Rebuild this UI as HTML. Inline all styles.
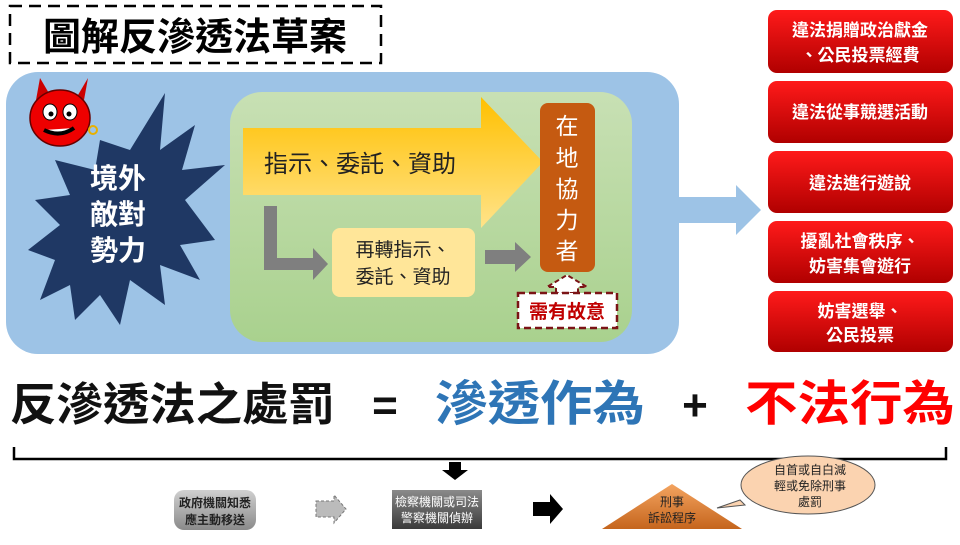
<!DOCTYPE html>
<html><head><meta charset="utf-8"><style>
body{margin:0;width:960px;height:540px;overflow:hidden;background:#fff}
svg text{font-family:"Liberation Sans","Noto Sans CJK TC",sans-serif}
</style></head><body>
<svg width="960" height="540" xmlns="http://www.w3.org/2000/svg">
<defs>
<linearGradient id="gg" x1="0" y1="0" x2="0" y2="1"><stop offset="0" stop-color="#c8e0b4"/><stop offset="1" stop-color="#a9d18e"/></linearGradient>
<linearGradient id="yg" x1="0" y1="0" x2="0" y2="1"><stop offset="0" stop-color="#ffc000"/><stop offset="1" stop-color="#ffe38a"/></linearGradient>
<linearGradient id="rg" x1="0" y1="0" x2="0" y2="1"><stop offset="0" stop-color="#ff1a1a"/><stop offset="1" stop-color="#b00000"/></linearGradient>
<linearGradient id="gr" x1="0" y1="0" x2="0" y2="1"><stop offset="0" stop-color="#d0d0d0"/><stop offset="1" stop-color="#8a8a8a"/></linearGradient>
<linearGradient id="dg" x1="0" y1="0" x2="0" y2="1"><stop offset="0" stop-color="#8a8a8a"/><stop offset="1" stop-color="#3a3a3a"/></linearGradient>
<linearGradient id="og" x1="0" y1="0" x2="0" y2="1"><stop offset="0" stop-color="#f4a460"/><stop offset="1" stop-color="#c5651d"/></linearGradient>
</defs>
<rect x="10" y="6" width="371" height="57" fill="#fff" stroke="#000" stroke-width="2.5" stroke-dasharray="12,7"/>
<text x="195" y="50" font-size="38" text-anchor="middle" font-weight="bold" fill="#000">圖解反滲透法草案</text>
<rect x="6" y="72" width="673" height="282" rx="32" fill="#9dc3e6"/>
<polygon points="679,197 736,197 736,185 761,210 736,235 736,223 679,223" fill="#9dc3e6"/>
<rect x="230" y="92" width="402" height="250" rx="32" fill="url(#gg)"/>
<polygon fill="#1f3864" points="165,93 160,150 195,125 182,170 225,165 185,200 215,240 180,245 200,280 160,265 165,305 130,280 120,325 100,295 75,320 70,285 40,300 55,260 28,250 60,225 35,200 70,195 55,160 95,170 100,140 130,150" />
<text font-size="28" fill="#fff" text-anchor="middle" font-weight="bold"><tspan x="118" y="188">境外</tspan><tspan x="118" y="224">敵對</tspan><tspan x="118" y="260">勢力</tspan></text>
<g>
<polygon points="36,100 40,78 50,95" fill="#c00"/><polygon points="78,95 88,78 84,100" fill="#c00"/>
<ellipse cx="60" cy="118" rx="30" ry="28" fill="#e00" stroke="#600" stroke-width="1.5"/>
<ellipse cx="50" cy="112" rx="7" ry="8" fill="#fff" stroke="#000"/><ellipse cx="70" cy="112" rx="7" ry="8" fill="#fff" stroke="#000"/>
<circle cx="51" cy="114" r="2.5"/><circle cx="69" cy="114" r="2.5"/>
<path d="M44 130 Q60 138 74 128" stroke="#000" stroke-width="4" fill="#fff"/>
<circle cx="93" cy="130" r="4" fill="none" stroke="#e8b000" stroke-width="2"/>
</g>
<polygon points="243,128 481,128 481,97 543,162 481,228 481,195 243,195" fill="url(#yg)"/>
<text x="360" y="172" font-size="24" text-anchor="middle" fill="#222">指示、委託、資助</text>
<polygon points="264,206 277,206 277,258 313,258 313,248 328,264 313,280 313,270 264,270" fill="#7f7f7f"/>
<rect x="332" y="228" width="143" height="69" rx="8" fill="#ffe699"/>
<text font-size="19" text-anchor="middle" fill="#222"><tspan x="403" y="256">再轉指示、</tspan><tspan x="403" y="283">委託、資助</tspan></text>
<polygon points="485,250 515,250 515,242 531,257 515,272 515,264 485,264" fill="#7f7f7f"/>
<rect x="540" y="103" width="55" height="169" rx="8" fill="#c55a11"/>
<text font-size="23" fill="#fff" text-anchor="middle"><tspan x="567" y="134">在</tspan><tspan x="567" y="166">地</tspan><tspan x="567" y="197">協</tspan><tspan x="567" y="228">力</tspan><tspan x="567" y="259">者</tspan></text>
<polygon points="556,293 556,287 547,287 567,275 587,287 578,287 578,293" fill="#fff" stroke="#7b1416" stroke-width="2" stroke-dasharray="5,3"/>
<rect x="518" y="293" width="99" height="35" fill="#fff" stroke="#7b1416" stroke-width="2.5" stroke-dasharray="7,4"/>
<text x="567" y="318" font-size="19" font-weight="bold" text-anchor="middle" fill="#c00000">需有故意</text>
<g fill="url(#rg)">
<rect x="768" y="10" width="185" height="63" rx="9"/>
<rect x="768" y="81" width="185" height="62" rx="9"/>
<rect x="768" y="151" width="185" height="62" rx="9"/>
<rect x="768" y="221" width="185" height="62" rx="9"/>
<rect x="768" y="291" width="185" height="61" rx="9"/>
</g>
<g font-size="17" font-weight="bold" fill="#fff" text-anchor="middle">
<text x="860" y="36">違法捐贈政治獻金</text><text x="860" y="61">、公民投票經費</text>
<text x="860" y="118">違法從事競選活動</text>
<text x="860" y="189">違法進行遊說</text>
<text x="860" y="247">擾亂社會秩序、</text><text x="860" y="272">妨害集會遊行</text>
<text x="860" y="317">妨害選舉、</text><text x="860" y="341">公民投票</text>
</g>
<text x="10" y="420" font-size="45" font-weight="bold" fill="#111" textLength="325" lengthAdjust="spacingAndGlyphs">反滲透法之處罰</text>
<text x="385" y="420" font-size="44" font-weight="bold" fill="#111" text-anchor="middle">=</text>
<text x="435" y="420" font-size="48" font-weight="bold" fill="#2e75b6" textLength="210" lengthAdjust="spacingAndGlyphs">滲透作為</text>
<text x="695" y="420" font-size="44" font-weight="bold" fill="#111" text-anchor="middle">+</text>
<text x="745" y="420" font-size="48" font-weight="bold" fill="#ff0000" textLength="210" lengthAdjust="spacingAndGlyphs">不法行為</text>
<path d="M14 447 L14 459 L946 459 L946 447" stroke="#000" stroke-width="2.5" fill="none"/>
<polygon points="449,462 461,462 461,470 468,470 455,480 442,470 449,470" fill="#000"/>
<rect x="174" y="490" width="82" height="40" rx="10" fill="url(#gr)"/>
<text font-size="12" font-weight="bold" fill="#222" text-anchor="middle"><tspan x="215" y="507">政府機關知悉</tspan><tspan x="215" y="524">應主動移送</tspan></text>
<polygon points="316,501 334,501 334,495 346,509 334,523 334,517 316,517" fill="#bbb" stroke="#777" stroke-dasharray="3,2"/>
<rect x="392" y="490" width="90" height="39" fill="url(#dg)"/>
<text font-size="12" fill="#fff" text-anchor="middle"><tspan x="437" y="506">檢察機關或司法</tspan><tspan x="437" y="522">警察機關偵辦</tspan></text>
<polygon points="533,502 550,502 550,494 563,509 550,524 550,516 533,516" fill="#000"/>
<polygon points="672,484 742,529 602,529" fill="url(#og)"/>
<text font-size="12" fill="#222" text-anchor="middle"><tspan x="672" y="506">刑事</tspan><tspan x="672" y="522">訴訟程序</tspan></text>
<path d="M740 500 L717 508 L745 505 Z" fill="#fbd3b0" stroke="#555"/>
<ellipse cx="808" cy="485" rx="67" ry="29" fill="#fbd3b0" stroke="#555"/>
<text font-size="12" fill="#222" text-anchor="middle"><tspan x="810" y="474">自首或自白減</tspan><tspan x="810" y="490">輕或免除刑事</tspan><tspan x="810" y="506">處罰</tspan></text>
</svg>
</body></html>
